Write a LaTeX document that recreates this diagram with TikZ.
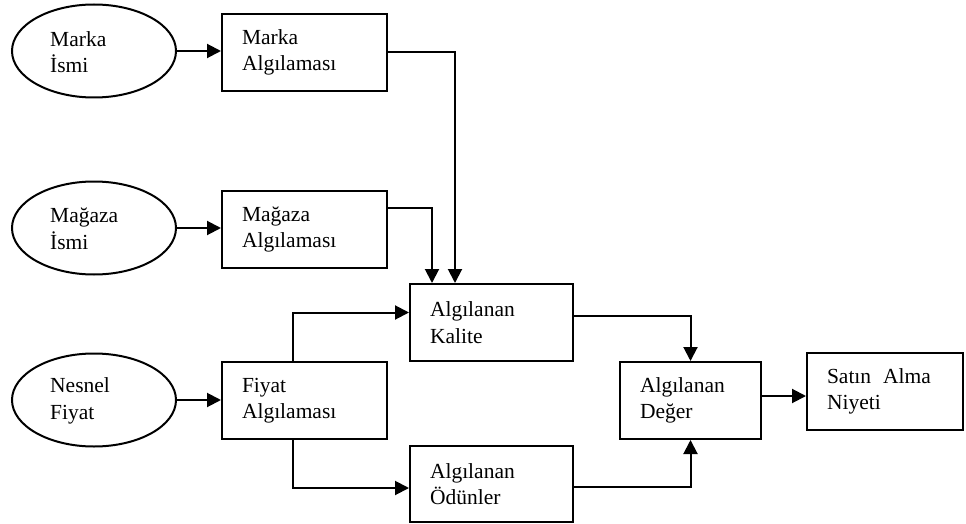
\documentclass[tikz,border=0pt]{standalone}
\usepackage{fontspec}
\setmainfont{Liberation Serif}
\usetikzlibrary{arrows.meta,calc,shapes.geometric}
\begin{document}
\begin{tikzpicture}[x=1pt,y=-1pt,
  every node/.style={font=\fontsize{21.5}{26.5}\selectfont},
  box/.style={draw,line width=2pt,minimum height=77pt,inner xsep=20pt,inner ysep=0pt,align=left},
  oval/.style={draw,ellipse,line width=2pt,minimum width=164pt,minimum height=93pt,inner sep=0pt},
  otext/.style={anchor=west,align=left,inner sep=0pt},
  conn/.style={line width=2pt},
  arr/.style={conn,-{Triangle[length=14pt,width=14pt]}}]
\useasboundingbox (0,0) rectangle (966,524);

% left column: sources
\node[oval] (em) at (94,51) {};
\node[otext] (tm) at ($(em.west)+(39,1)$) {Marka\\İsmi};
\node[oval] (es) at (94,228) {};
\node[otext] (ts) at ($(es.west)+(39,1)$) {Mağaza\\İsmi};
\node[oval] (en) at (94,400) {};
\node[otext] (tn) at ($(en.west)+(39,1)$) {Nesnel\\Fiyat};

% perception boxes
\node[box,text width=125pt] (ma) at (304.5,52.5) {Marka\\Algılaması};
\node[box,text width=125pt] (sa) at (304.5,229.5) {Mağaza\\Algılaması};
\node[box,text width=125pt] (fa) at (304.5,400.5) {Fiyat\\Algılaması};

% perceived quality / sacrifice
\node[box,text width=123pt] (ak) at (491.5,322.5) {Algılanan\\Kalite};
\node[box,text width=123pt,minimum height=76pt] (ao) at (491.5,484) {Algılanan\\Ödünler};

% value and intention
\node[box,text width=101pt] (ad) at (690.5,400.5) {Algılanan\\Değer};
\node[box,text width=116pt] (sn) at (885,391.5) {Satın\hspace{12pt}Alma\\Niyeti};

% connectors
\draw[arr] (em.east) -- (em.east -| ma.west);
\draw[arr] (es.east) -- (es.east -| sa.west);
\draw[arr] (en.east) -- (en.east -| fa.west);
\draw[arr] (ma.east) -| ($(ak.north west)+(46,0)$);
\draw[arr] ([yshift=22pt]sa.east) -| ($(ak.north west)+(23,0)$);
\draw[arr] ([xshift=-12pt]fa.north) |- ([yshift=10pt]ak.west);
\draw[arr] ([xshift=-12pt]fa.south) |- ([yshift=-4pt]ao.west);
\draw[arr] ([yshift=6.5pt]ak.east) -| (ad.north);
\draw[arr] ([yshift=-3pt]ao.east) -| (ad.south);
\draw[arr] ([yshift=4.5pt]ad.east) -- ([yshift=4.5pt]ad.east -| sn.west);
\end{tikzpicture}
\end{document}
